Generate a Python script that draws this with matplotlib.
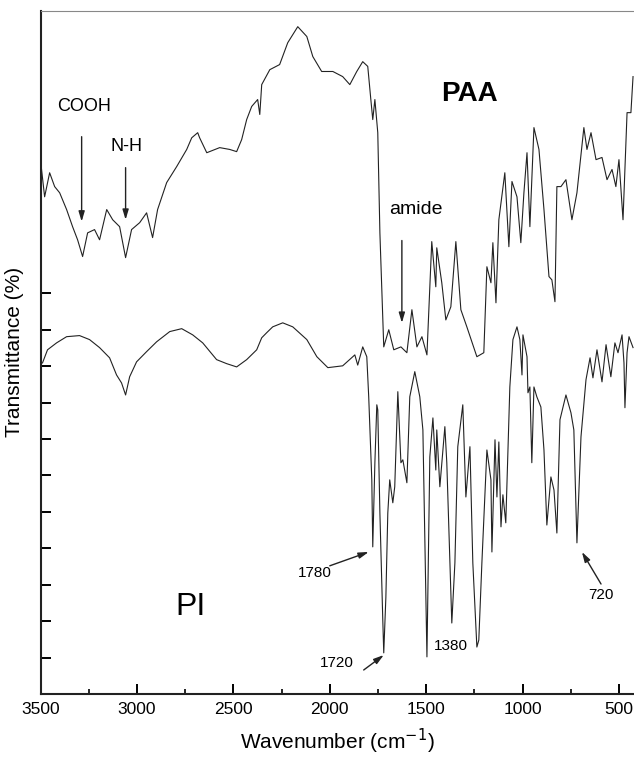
import matplotlib
matplotlib.use('Agg')
import matplotlib.pyplot as plt
from matplotlib.ticker import MultipleLocator
import numpy as np

plt.rcParams['font.family'] = ['Liberation Sans', 'DejaVu Sans']

# FTIR spectra, wavenumber (cm-1) vs transmittance (arbitrary offset units)
paa_wn = [3496, 3479, 3453, 3427, 3401, 3365, 3334, 3308, 3282, 3256, 3220, 3194,
          3157, 3126, 3090, 3059, 3028, 2986, 2950, 2919, 2893, 2846, 2794, 2742,
          2716, 2685, 2675, 2638, 2571, 2519, 2483, 2457, 2431, 2405, 2374, 2363,
          2353, 2311, 2260, 2218, 2166, 2119, 2088, 2042, 1984, 1933, 1896, 1860,
          1829, 1803, 1787, 1777, 1766, 1751, 1740, 1720, 1694, 1668, 1631, 1600,
          1574, 1548, 1522, 1496, 1471, 1450, 1445, 1419, 1398, 1372, 1346, 1320,
          1289, 1237, 1201, 1185, 1164, 1154, 1138, 1123, 1092, 1071, 1055, 1029,
          1009, 993, 977, 962, 941, 915, 889, 863, 848, 832, 822, 801, 775, 744,
          718, 682, 666, 645, 619, 588, 562, 536, 516, 500, 479, 458, 438, 427]
paa_t = [14.45, 13.65, 14.31, 13.93, 13.76, 13.30, 12.83, 12.47, 12.01, 12.66, 12.75, 12.47,
         13.30, 13.02, 12.83, 11.98, 12.75, 12.94, 13.21, 12.53, 13.30, 14.04, 14.48, 14.95,
         15.27, 15.41, 15.27, 14.86, 15.00, 14.95, 14.89, 15.22, 15.77, 16.13, 16.32, 15.91,
         16.73, 17.14, 17.28, 17.88, 18.32, 18.05, 17.50, 17.09, 17.09, 16.95, 16.73, 17.09,
         17.36, 17.23, 16.32, 15.77, 16.32, 15.41, 12.66, 9.53, 10.00, 9.45, 9.53, 9.37,
         10.55, 9.53, 9.81, 9.31, 12.42, 11.18, 12.25, 11.29, 10.27, 10.63, 12.42, 10.55,
         10.08, 9.26, 9.37, 11.73, 11.29, 12.39, 10.74, 13.02, 14.31, 12.28, 14.07, 13.65,
         12.39, 13.76, 14.86, 12.83, 15.55, 14.95, 13.30, 11.46, 11.37, 10.77, 13.93, 13.93, 14.12, 13.02,
         13.76, 15.55, 14.95, 15.41, 14.67, 14.73, 14.12, 14.40, 13.93, 14.67, 13.02, 15.96, 15.96, 16.95]

pi_wn = [3490, 3464, 3417, 3365, 3298, 3246, 3194, 3142, 3106, 3080, 3059, 3038,
         3002, 2950, 2898, 2830, 2768, 2711, 2659, 2587, 2535, 2483, 2431, 2379,
         2353, 2327, 2296, 2244, 2192, 2119, 2067, 2010, 1933, 1870, 1855, 1829,
         1808, 1798, 1782, 1777, 1766, 1756, 1751, 1740, 1725, 1720, 1709, 1699,
         1689, 1673, 1663, 1647, 1631, 1621, 1600, 1585, 1559, 1533, 1517, 1496,
         1481, 1465, 1450, 1445, 1429, 1403, 1393, 1367, 1351, 1336, 1310, 1294,
         1273, 1258, 1237, 1227, 1211, 1185, 1164, 1159, 1143, 1133, 1123, 1112,
         1102, 1087, 1066, 1050, 1029, 1014, 1003, 998, 977, 972, 962, 952,
         941, 926, 905, 889, 874, 853, 837, 822, 806, 775, 749, 734,
         718, 697, 671, 650, 635, 614, 588, 567, 542, 521, 505, 484,
         474, 469, 458, 448, 427]
pi_t = [9.09, 9.45, 9.64, 9.81, 9.84, 9.73, 9.51, 9.23, 8.76, 8.54, 8.21, 8.71,
        9.12, 9.40, 9.67, 9.95, 10.03, 9.86, 9.64, 9.18, 9.07, 8.98, 9.18, 9.45,
        9.78, 9.92, 10.08, 10.19, 10.08, 9.73, 9.26, 8.96, 9.01, 9.31, 9.03, 9.53,
        9.26, 8.16, 5.88, 4.04, 6.35, 7.94, 7.80, 4.97, 2.03, 1.13, 2.66, 4.97,
        5.88, 5.25, 5.69, 8.30, 6.35, 6.43, 5.80, 8.16, 8.85, 8.16, 7.25, 1.02,
        6.51, 7.58, 6.15, 7.25, 5.69, 7.34, 6.35, 1.95, 3.60, 6.79, 7.94, 5.41,
        6.79, 3.60, 1.29, 1.48, 3.60, 6.70, 5.88, 3.90, 6.98, 5.41, 6.92, 4.59,
        5.47, 4.70, 8.43, 9.73, 10.08, 9.73, 8.76, 9.86, 9.26, 8.27, 8.43, 6.35,
        8.43, 8.16, 7.88, 6.70, 4.64, 5.96, 5.60, 4.42, 7.53, 8.21, 7.72, 7.25,
        4.15, 7.06, 8.63, 9.23, 8.68, 9.45, 8.57, 9.59, 8.71, 9.64, 9.37, 9.86,
        9.09, 7.86, 9.37, 9.81, 9.51]

x_ticks = [3500, 3000, 2500, 2000, 1500, 1000, 500]

fig = plt.figure(figsize=(6.34, 7.61), dpi=100)
ax = fig.add_axes([0.064, 0.088, 0.936, 0.898])

ax.plot(paa_wn, paa_t, color='#222222', lw=0.8)
ax.plot(pi_wn, pi_t, color='#222222', lw=0.8)

ax.set_xlim(3500, 422)
ax.set_ylim(0, 18.76)
ax.set_xticks(x_ticks)
ax.xaxis.set_minor_locator(MultipleLocator(250))
ax.set_yticks(np.arange(0, 12))
ax.set_yticklabels([])
ax.tick_params(axis='both', which='major', direction='in', length=7, width=1.4,
               labelsize=12.5, pad=6)
ax.tick_params(axis='x', which='minor', direction='in', length=3.5, width=1.2)
ax.tick_params(top=False, right=False)

for side in ['left', 'bottom']:
    ax.spines[side].set_linewidth(1.5)
    ax.spines[side].set_color('#222222')
ax.spines['top'].set_linewidth(0.8)
ax.spines['top'].set_color('#888888')
ax.spines['right'].set_visible(False)

ax.set_xlabel('Wavenumber (cm$^{-1}$)', fontsize=15, labelpad=7)
ax.set_ylabel('Transmittance (%)', fontsize=15, labelpad=6)

arrow = dict(arrowstyle='-|>,head_length=0.6,head_width=0.18', color='#222222',
             lw=1.0, shrinkA=0, shrinkB=0)

ax.text(3272, 16.13, 'COOH', fontsize=13, ha='center', va='center')
ax.annotate('', xy=(3287, 12.97), xytext=(3287, 15.30), arrowprops=arrow)
ax.text(3054, 15.03, 'N-H', fontsize=13, ha='center', va='center')
ax.annotate('', xy=(3059, 13.02), xytext=(3059, 14.45), arrowprops=arrow)
ax.text(1554, 13.30, 'amide', fontsize=14, ha='center', va='center')
ax.annotate('', xy=(1626, 10.19), xytext=(1626, 12.45), arrowprops=arrow)

ax.text(1273, 16.46, 'PAA', fontsize=20, fontweight='bold', ha='center', va='center')
ax.text(2721, 2.39, 'PI', fontsize=23, ha='center', va='center')

ax.text(2078, 3.32, '1780', fontsize=11, ha='center', va='center')
ax.annotate('', xy=(1798, 3.90), xytext=(2000, 3.52), arrowprops=arrow)
ax.text(1964, 0.85, '1720', fontsize=11, ha='center', va='center')
ax.annotate('', xy=(1720, 1.07), xytext=(1824, 0.66), arrowprops=arrow)
ax.text(1372, 1.32, '1380', fontsize=11, ha='center', va='center')
ax.text(593, 2.72, '720', fontsize=11, ha='center', va='center')
ax.annotate('', xy=(692, 3.90), xytext=(593, 3.02), arrowprops=arrow)

fig.savefig('out.png', dpi=100)
